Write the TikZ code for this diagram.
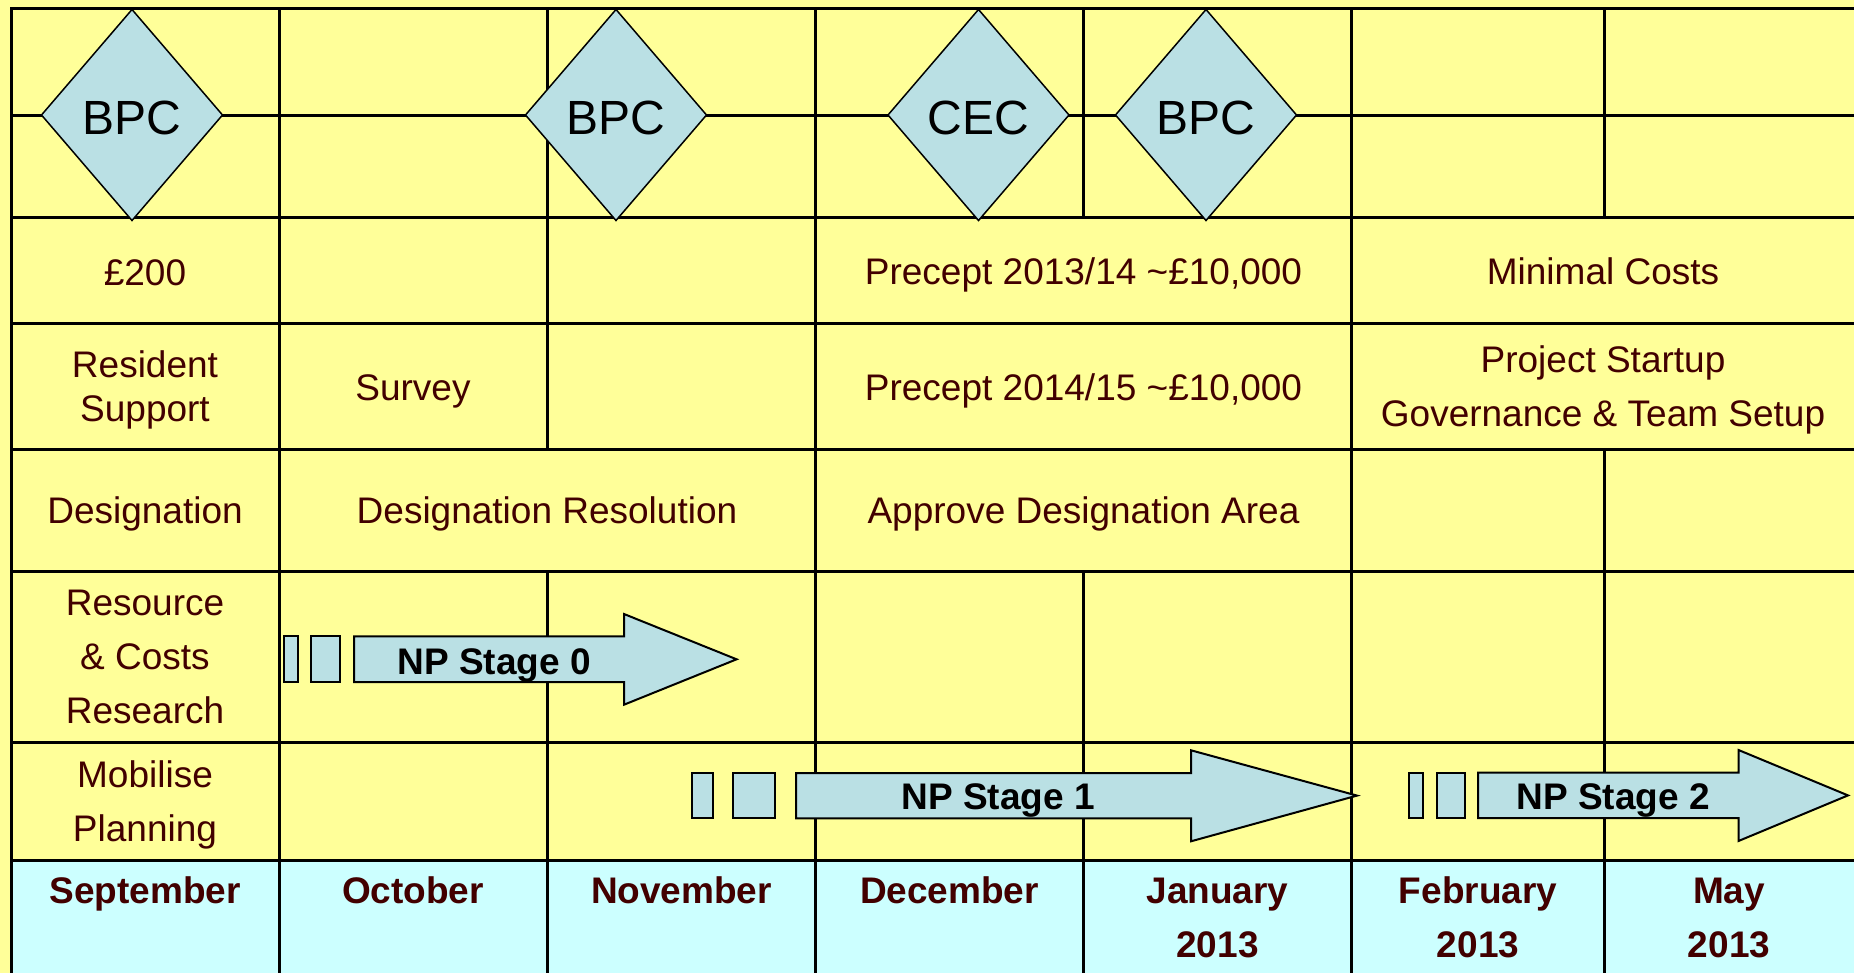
\documentclass[tikz,border=0pt]{standalone}
\usepackage{fontspec}
\setmainfont{Liberation Sans}
\usetikzlibrary{shapes.geometric}
\definecolor{bgyel}{HTML}{FFFF99}
\definecolor{bgcyan}{HTML}{CCFFFF}
\definecolor{dia}{HTML}{BAE0E4}
\definecolor{txt}{HTML}{420000}
\begin{document}
\begin{tikzpicture}[x=1pt,y=-1pt,
 grid/.style={line width=3pt, draw=black, line cap=rect},
 lbl/.style={text=txt, font=\fontsize{37}{54}\selectfont, align=center, anchor=base, inner sep=0pt},
 lbltight/.style={lbl, font=\fontsize{37}{44}\selectfont},
 month/.style={lbl, font=\bfseries\fontsize{37}{54}\selectfont},
 dmd/.style={diamond, draw=black, line width=1.5pt, fill=dia, inner sep=0pt, outer sep=0pt,
   minimum width=181pt, minimum height=211pt, font=\fontsize{48}{50}\selectfont,
   text height=40pt, text depth=0pt},
 arr/.style={draw=black, line width=2pt, fill=dia, line join=miter},
 arrtxt/.style={font=\bfseries\fontsize{37}{44}\selectfont, anchor=base, inner sep=0pt}]
\useasboundingbox (0,0) rectangle (1854,973);
\fill[bgyel] (0,0) rectangle (1854,973);
\fill[bgcyan] (11,860) rectangle (1854,973);
% grid
\foreach \yy in {9,116,218,324,449,571,742,860} {\draw[grid] (11,\yy) -- (1854,\yy);}
\draw[grid] (11,9) -- (11,973);
\draw[grid] (279,9) -- (279,973);
\draw[grid] (547.5,9) -- (547.5,449) (547.5,571) -- (547.5,973);
\draw[grid] (815.5,9) -- (815.5,973);
\draw[grid] (1083.5,9) -- (1083.5,218) (1083.5,571) -- (1083.5,973);
\draw[grid] (1351.5,9) -- (1351.5,973);
\draw[grid] (1604.5,9) -- (1604.5,218) (1604.5,449) -- (1604.5,973);
% diamonds
\node[dmd] (bpc1) at (132,115) {BPC};
\node[dmd] (bpc2) at (616,115) {BPC};
\node[dmd] (cec) at (978.5,115) {CEC};
\node[dmd] (bpc3) at (1206,115) {BPC};
% labels (anchor=base is the baseline of the last line)
\node[lbl] (c200) at (145,285.5) {£200};
\node[lbl] (p1314) at (1083.5,285) {Precept 2013/14 \textasciitilde£10,000};
\node[lbl] (minc) at (1603,284.5) {Minimal Costs};
\node[lbltight] (ressup) at (145,421.7) {Resident\\Support};
\node[lbl] (survey) at (413,400.5) {Survey};
\node[lbl] (p1415) at (1083.5,400.5) {Precept 2014/15 \textasciitilde£10,000};
\node[lbl] (proj) at (1603,426.7) {Project Startup\\Governance \& Team Setup};
\node[lbl] (desig) at (145,523) {Designation};
\node[lbl] (desres) at (547,523) {Designation Resolution};
\node[lbl] (appr) at (1083.5,523) {Approve Designation Area};
\node[lbl] (rescost) at (145,723.7) {Resource\\\& Costs\\Research};
\node[lbl] (mobil) at (145,841.3) {Mobilise\\Planning};
% months
\node[month] (sep) at (145,903.7) {September};
\node[month] (oct) at (413,903.7) {October};
\node[month] (nov) at (681.5,903.7) {November};
\node[month] (dec) at (949.5,903.7) {December};
\node[month] (jan) at (1217.5,957.7) {January\\2013};
\node[month] (feb) at (1478,957.7) {February\\2013};
\node[month] (may) at (1729,957.7) {May\\2013};
% stage 0
\draw[arr] (283.5,636.3) rectangle (297.7,682);
\draw[arr] (311.4,636.3) rectangle (340,682);
\draw[arr] (354,636.3) -- (624,636.3) -- (624,614) -- (736.6,659.3) -- (624,704.7) -- (624,682) -- (354,682) -- cycle;
\node[arrtxt] (np0) at (494,674) {NP Stage 0};
% stage 1
\draw[arr] (691.7,773) rectangle (712.7,818.3);
\draw[arr] (733.3,773) rectangle (775,818.3);
\draw[arr] (796,773) -- (1191,773) -- (1191,750.3) -- (1357,795.6) -- (1191,841.3) -- (1191,818.3) -- (796,818.3) -- cycle;
\node[arrtxt] (np1) at (998,809.7) {NP Stage 1};
% stage 2
\draw[arr] (1409,772.7) rectangle (1423.4,818);
\draw[arr] (1437,772.7) rectangle (1465,818);
\draw[arr] (1478,772.7) -- (1738.5,772.7) -- (1738.5,750) -- (1848,795.4) -- (1738.5,841) -- (1738.5,818) -- (1478,818) -- cycle;
\node[arrtxt] (np2) at (1613,809.7) {NP Stage 2};
\end{tikzpicture}
\end{document}
